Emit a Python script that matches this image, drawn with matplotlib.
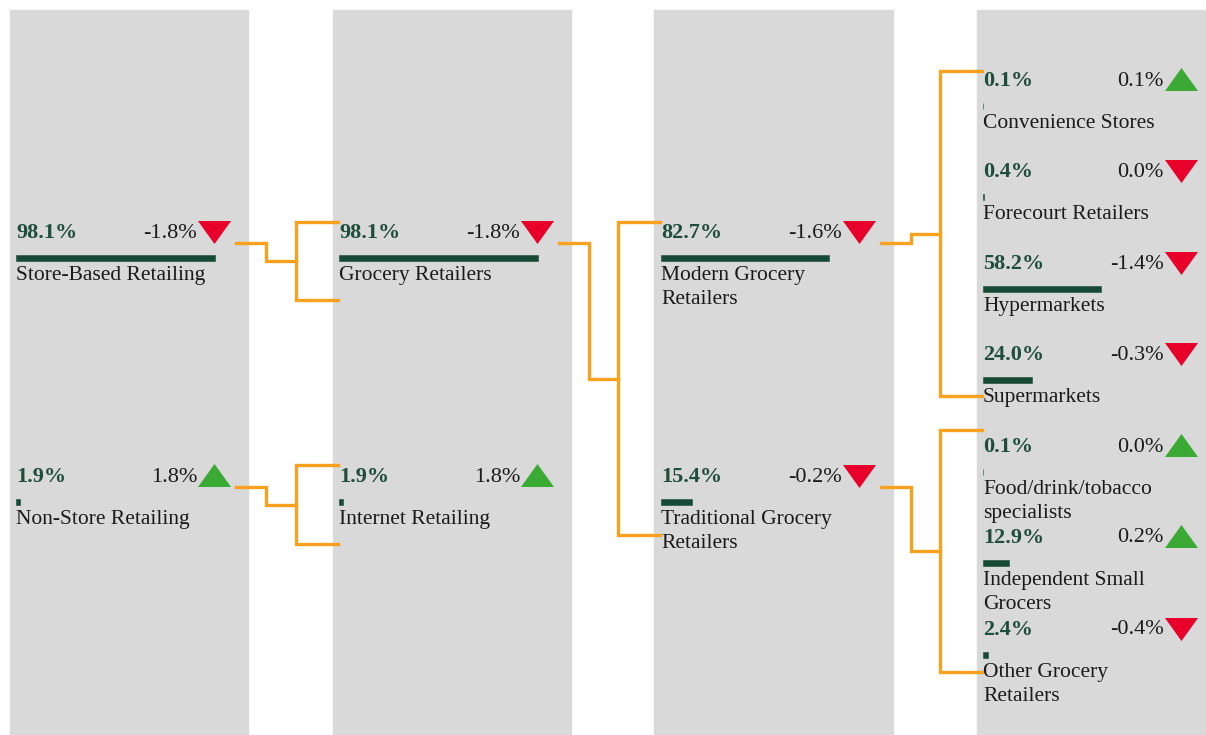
import matplotlib.pyplot as plt
from matplotlib.patches import Polygon, Rectangle

plt.rcParams['font.family'] = ['Liberation Serif', 'DejaVu Serif']

# Data
labels = ["Store-Based Retailing", "Non-Store Retailing",
          "Grocery Retailers", "Internet Retailing",
          "Modern Grocery\nRetailers", "Traditional Grocery\nRetailers",
          "Convenience Stores", "Forecourt Retailers", "Hypermarkets",
          "Supermarkets", "Food/drink/tobacco\nspecialists",
          "Independent Small\nGrocers", "Other Grocery\nRetailers"]
shares = [98.1, 1.9, 98.1, 1.9, 82.7, 15.4, 0.1, 0.4, 58.2, 24.0, 0.1, 12.9, 2.4]
changes = [-1.8, 1.8, -1.8, 1.8, -1.6, -0.2, 0.1, 0.0, -1.4, -0.3, 0.0, 0.2, -0.4]
trend_up = [False, True, False, True, False, False, True, False, False, False,
            True, True, False]
parents = [None, None, 0, 1, 2, 2, 4, 4, 4, 4, 5, 5, 5]
levels = [0, 0, 1, 1, 2, 2, 3, 3, 3, 3, 3, 3, 3]

# Layout (pixel space)
W, H = 1206, 735
col_left = [16, 339, 661, 983]
panel_x = [(10, 248), (333, 571), (654, 893), (977, 1206)]
node_y = [232, 476, 232, 476, 232, 476, 80, 171, 263, 354, 446, 537, 629]
bracket_span = {0: (222, 300), 1: (465, 544), 2: (222, 535), 4: (71, 396), 5: (430, 672)}
px_per_pct = 2.03

GREEN_TXT = '#1f4d3b'
BAR = '#174a36'
ORANGE = '#f7a11e'
RED = '#e8002a'
UP = '#3aaa35'

fig = plt.figure(figsize=(W / 100, H / 100), dpi=100)
ax = fig.add_axes([0, 0, 1, 1])
ax.set_xlim(0, W)
ax.set_ylim(H, 0)
ax.axis('off')

for x0, x1 in panel_x:
    ax.add_patch(Rectangle((x0, 10), x1 - x0, H - 10, color='#d9d9d9', zorder=0))

for i, lab in enumerate(labels):
    x = col_left[levels[i]]
    y = node_y[i]
    ax.text(x, y + 1, f"{shares[i]:.1f}%", color=GREEN_TXT, fontsize=16,
            fontweight='bold', va='center', ha='left')
    ax.text(x + 181, y + 1, f"{changes[i]:.1f}%", color='#1a1a1a', fontsize=16,
            va='center', ha='right')
    tx = x + 182
    if trend_up[i]:
        tri = [(tx, y + 11), (tx + 33, y + 11), (tx + 16.5, y - 12)]
        c = UP
    else:
        tri = [(tx, y - 11), (tx + 33, y - 11), (tx + 16.5, y + 12)]
        c = RED
    ax.add_patch(Polygon(tri, closed=True, color=c, lw=0))
    ax.barh(y + 26, shares[i] * px_per_pct, height=6, left=x, color=BAR,
            edgecolor=BAR, linewidth=0.4)
    ax.text(x, y + 34, lab, color='#1a1a1a', fontsize=15.5, va='top',
            ha='left', linespacing=1.38)

# Connectors
for p, (top, bot) in bracket_span.items():
    lvl = levels[p]
    x_start = col_left[lvl] + 220
    x_mid = x_start + 30
    x_br = col_left[lvl + 1] - 43
    x_end = col_left[lvl + 1] - 1
    y0 = node_y[p] + 11
    ym = (top + bot) / 2
    kw = dict(color=ORANGE, lw=2.4, solid_joinstyle='miter')
    ax.plot([x_start, x_mid, x_mid, x_br], [y0, y0, ym, ym], **kw)
    ax.plot([x_end, x_br, x_br, x_end], [top, top, bot, bot], **kw)

fig.savefig('out.png', dpi=100)
